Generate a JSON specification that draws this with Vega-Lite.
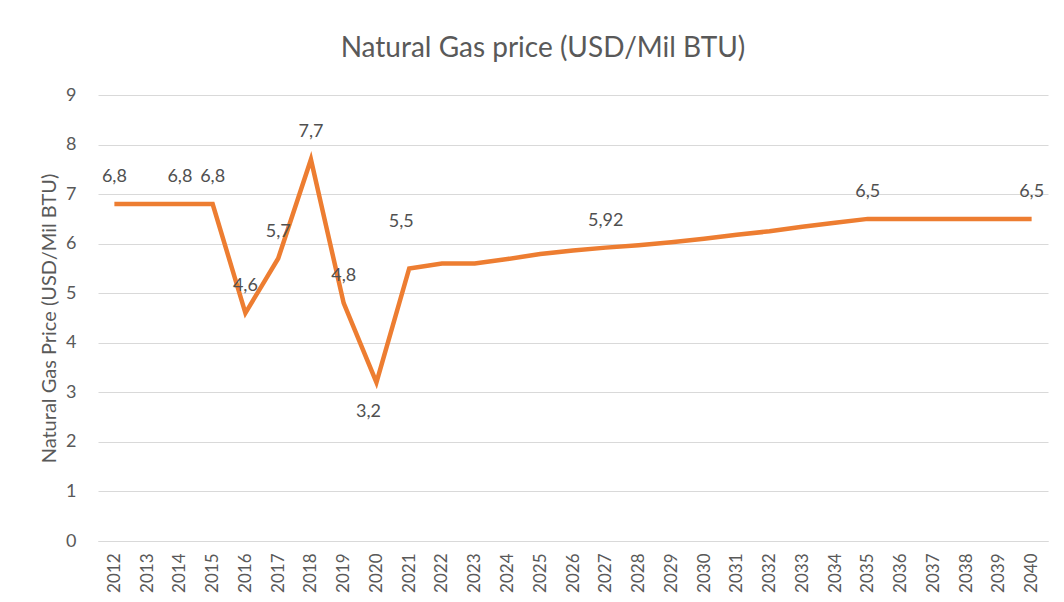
{
  "$schema": "https://vega.github.io/schema/vega-lite/v6.json",
  "width": 950,
  "height": 446,
  "autosize": {"type": "none"},
  "padding": {"left": 98, "top": 95, "right": 16, "bottom": 61},
  "background": "white",
  "title": {
    "text": "Natural Gas price (USD/Mil BTU)",
    "font": "Lato",
    "fontSize": 28,
    "fontWeight": "normal",
    "color": "#595959",
    "anchor": "middle",
    "offset": 23,
    "dx": -30
  },
  "config": {
    "view": {"stroke": null},
    "font": "Lato"
  },
  "data": {
    "values": [
      {"year": "2012", "price": 6.8, "label": "6,8"},
      {"year": "2013", "price": 6.8, "label": ""},
      {"year": "2014", "price": 6.8, "label": "6,8"},
      {"year": "2015", "price": 6.8, "label": "6,8"},
      {"year": "2016", "price": 4.6, "label": "4,6"},
      {"year": "2017", "price": 5.7, "label": "5,7"},
      {"year": "2018", "price": 7.7, "label": "7,7"},
      {"year": "2019", "price": 4.8, "label": "4,8"},
      {"year": "2020", "price": 3.2, "label": "3,2"},
      {"year": "2021", "price": 5.5, "label": "5,5"},
      {"year": "2022", "price": 5.6, "label": ""},
      {"year": "2023", "price": 5.6, "label": ""},
      {"year": "2024", "price": 5.69, "label": ""},
      {"year": "2025", "price": 5.79, "label": ""},
      {"year": "2026", "price": 5.86, "label": ""},
      {"year": "2027", "price": 5.92, "label": "5,92"},
      {"year": "2028", "price": 5.97, "label": ""},
      {"year": "2029", "price": 6.03, "label": ""},
      {"year": "2030", "price": 6.1, "label": ""},
      {"year": "2031", "price": 6.18, "label": ""},
      {"year": "2032", "price": 6.25, "label": ""},
      {"year": "2033", "price": 6.34, "label": ""},
      {"year": "2034", "price": 6.42, "label": ""},
      {"year": "2035", "price": 6.5, "label": "6,5"},
      {"year": "2036", "price": 6.5, "label": ""},
      {"year": "2037", "price": 6.5, "label": ""},
      {"year": "2038", "price": 6.5, "label": ""},
      {"year": "2039", "price": 6.5, "label": ""},
      {"year": "2040", "price": 6.5, "label": "6,5"}
    ]
  },
  "encoding": {
    "x": {
      "field": "year",
      "type": "ordinal",
      "scale": {"type": "point", "padding": 0.5},
      "axis": {
        "title": null,
        "labelAngle": -90,
        "labelAlign": "right",
        "labelBaseline": "middle",
        "labelFont": "Lato",
        "labelFontSize": 17,
        "labelColor": "#595959",
        "labelPadding": 12,
        "ticks": false,
        "domainColor": "#d9d9d9",
        "domainWidth": 1,
        "grid": false
      }
    },
    "y": {
      "field": "price",
      "type": "quantitative",
      "scale": {"domain": [0, 9]},
      "axis": {
        "title": "Natural Gas Price (USD/Mil BTU)",
        "titleFont": "Lato",
        "titleFontSize": 20,
        "titleFontWeight": "normal",
        "titleColor": "#595959",
        "titlePadding": 6,
        "values": [0, 1, 2, 3, 4, 5, 6, 7, 8, 9],
        "labelFont": "Lato",
        "labelFontSize": 18,
        "labelColor": "#595959",
        "labelPadding": 22,
        "ticks": false,
        "domain": false,
        "gridColor": "#d9d9d9",
        "gridWidth": 1
      }
    }
  },
  "layer": [
    {
      "mark": {"type": "line", "color": "#ED7D31", "strokeWidth": 4.5, "strokeJoin": "miter"}
    },
    {
      "transform": [{"filter": "datum.label != '' && datum.year != '2020' && datum.year != '2021'"}],
      "mark": {"type": "text", "dy": -27, "fontSize": 18, "color": "#505050", "font": "Lato"},
      "encoding": {"text": {"field": "label"}}
    },
    {
      "transform": [{"filter": "datum.year == '2020'"}],
      "mark": {"type": "text", "dy": 30, "dx": -8, "fontSize": 18, "color": "#505050", "font": "Lato"},
      "encoding": {"text": {"field": "label"}}
    },
    {
      "transform": [{"filter": "datum.year == '2021'"}],
      "mark": {"type": "text", "dy": -46, "dx": -8, "fontSize": 18, "color": "#505050", "font": "Lato"},
      "encoding": {"text": {"field": "label"}}
    }
  ]
}
